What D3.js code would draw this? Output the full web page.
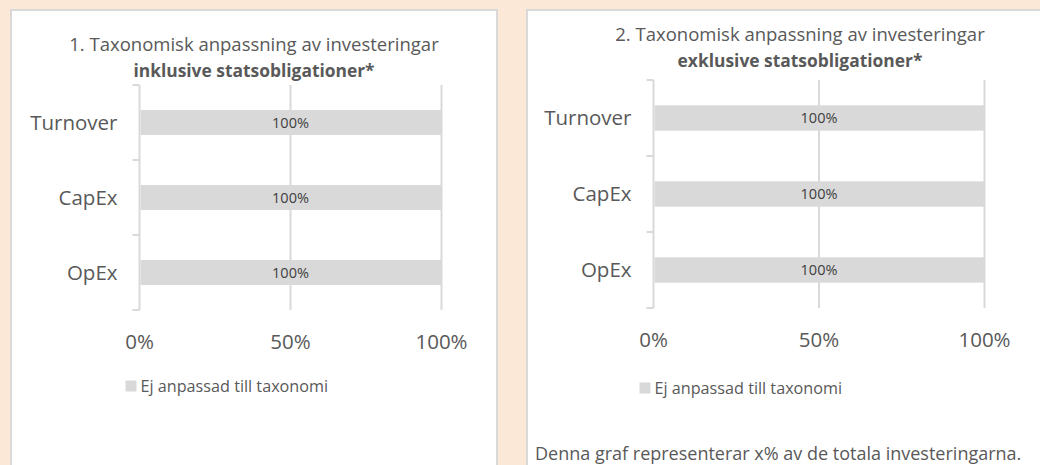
<!DOCTYPE html>
<html lang="sv">
<head>
  <meta charset="UTF-8">
  <title>Taxonomisk anpassning av investeringar</title>
  <style>
    body{ margin: 0; background: #fbe8d6; }
    svg{ display: block; font-family: "Open Sans", Lato, sans-serif; }
    .panel{ fill: #fff; stroke: #d9d9d9; stroke-width: 2px; }
    .grid, .axis-line{ stroke: #d9d9d9; stroke-width: 2px; fill: none; }
    .bar{ fill: #d9d9d9; }
    .txt{ fill: #595959; }
  </style>
</head>
<body>
  <script src="https://cdn.jsdelivr.net/npm/d3@7"></script>
  <script>
    const width = 1040, height = 465;

    // data
    const categories = ['Turnover', 'CapEx', 'OpEx'];
    const inclValues = [100, 100, 100];   // inklusive statsobligationer
    const exclValues = [100, 100, 100];   // exklusive statsobligationer
    const xTicks = [0, 50, 100];
    const seriesName = 'Ej anpassad till taxonomi';
    const titles1 = ['1. Taxonomisk anpassning av investeringar', 'inklusive statsobligationer*'];
    const titles2 = ['2. Taxonomisk anpassning av investeringar', 'exklusive statsobligationer*'];
    const footnote = 'Denna graf representerar x% av de totala investeringarna.';

    const svg = d3.select('body').append('svg')
      .attr('width', width).attr('height', height);

    svg.append('rect').attr('width', width).attr('height', height).attr('fill', '#fbe8d6');

    // panel boxes
    svg.append('rect').attr('class', 'panel').attr('x', 11).attr('y', 10).attr('width', 486).attr('height', 470);
    svg.append('rect').attr('class', 'panel').attr('x', 527).attr('y', 10).attr('width', 530).attr('height', 470);

    drawChart({
      values: inclValues, titles: titles1, cx: 254,
      titleY: [51, 77], x0: 139.5, x1: 441.5, y0: 85, y1: 310,
      tickY: 349, legendY: 386
    });
    drawChart({
      values: exclValues, titles: titles2, cx: 800,
      titleY: [41, 67], x0: 653.5, x1: 984.5, y0: 80, y1: 308,
      tickY: 347, legendY: 388
    });

    svg.append('text').attr('class', 'txt')
      .attr('x', 535).attr('y', 460)
      .style('font-size', '18px')
      .text(footnote);

    function drawChart(c){
      const g = svg.append('g');
      const x = d3.scaleLinear().domain([0, 100]).range([c.x0, c.x1]);
      const y = d3.scaleBand().domain(categories).range([c.y0, c.y1])
        .paddingInner(2 / 3).paddingOuter(1 / 3);

      // title
      g.append('text').attr('class', 'txt')
        .attr('x', c.cx).attr('y', c.titleY[0])
        .attr('text-anchor', 'middle').style('font-size', '18.5px')
        .text(c.titles[0]);
      g.append('text').attr('class', 'txt')
        .attr('x', c.cx).attr('y', c.titleY[1])
        .attr('text-anchor', 'middle').style('font-size', '17.4px').style('font-weight', 'bold')
        .text(c.titles[1]);

      // gridlines (skip 0, drawn as axis)
      g.selectAll('line.grid').data(xTicks.filter(d => d > 0)).enter().append('line')
        .attr('class', 'grid')
        .attr('x1', d => x(d)).attr('x2', d => x(d))
        .attr('y1', c.y0).attr('y2', c.y1);

      // category axis with ticks at band boundaries
      g.append('line').attr('class', 'axis-line')
        .attr('x1', x(0)).attr('x2', x(0)).attr('y1', c.y0).attr('y2', c.y1);
      const bounds = d3.range(categories.length + 1).map(i => c.y0 + i * y.step());
      g.selectAll('line.tick').data(bounds).enter().append('line')
        .attr('class', 'axis-line')
        .attr('x1', x(0) - 7).attr('x2', x(0))
        .attr('y1', d => d).attr('y2', d => d);

      // bars
      g.selectAll('rect.bar').data(c.values).enter().append('rect')
        .attr('class', 'bar')
        .attr('x', x(0) + 1)
        .attr('y', (d, i) => y(categories[i]))
        .attr('width', d => x(d) - x(0) - 1)
        .attr('height', y.bandwidth());

      // bar labels
      g.selectAll('text.lab').data(c.values).enter().append('text')
        .attr('class', 'lab')
        .attr('x', d => x(d / 2))
        .attr('y', (d, i) => y(categories[i]) + y.bandwidth() / 2)
        .attr('dy', '0.35em')
        .attr('text-anchor', 'middle')
        .attr('fill', '#404040')
        .style('font-size', '14.5px')
        .text(d => d + '%');

      // category labels
      g.selectAll('text.cat').data(categories).enter().append('text')
        .attr('class', 'txt')
        .attr('x', x(0) - 22)
        .attr('y', d => y(d) + y.bandwidth() / 2)
        .attr('dy', '0.35em')
        .attr('text-anchor', 'end')
        .style('font-size', '20.5px')
        .text(d => d);

      // x tick labels
      g.selectAll('text.xt').data(xTicks).enter().append('text')
        .attr('class', 'txt')
        .attr('x', d => x(d))
        .attr('y', c.tickY)
        .attr('text-anchor', 'middle')
        .style('font-size', '20.5px')
        .text(d => d + '%');

      // legend
      const lx = x(0) - 14;
      g.append('rect').attr('x', lx).attr('y', c.legendY - 5.5)
        .attr('width', 11).attr('height', 11).attr('fill', '#d9d9d9');
      g.append('text').attr('class', 'txt')
        .attr('x', lx + 15).attr('y', c.legendY)
        .attr('dy', '0.35em')
        .style('font-size', '16.2px')
        .text(seriesName);
    }
  </script>
</body>
</html>
